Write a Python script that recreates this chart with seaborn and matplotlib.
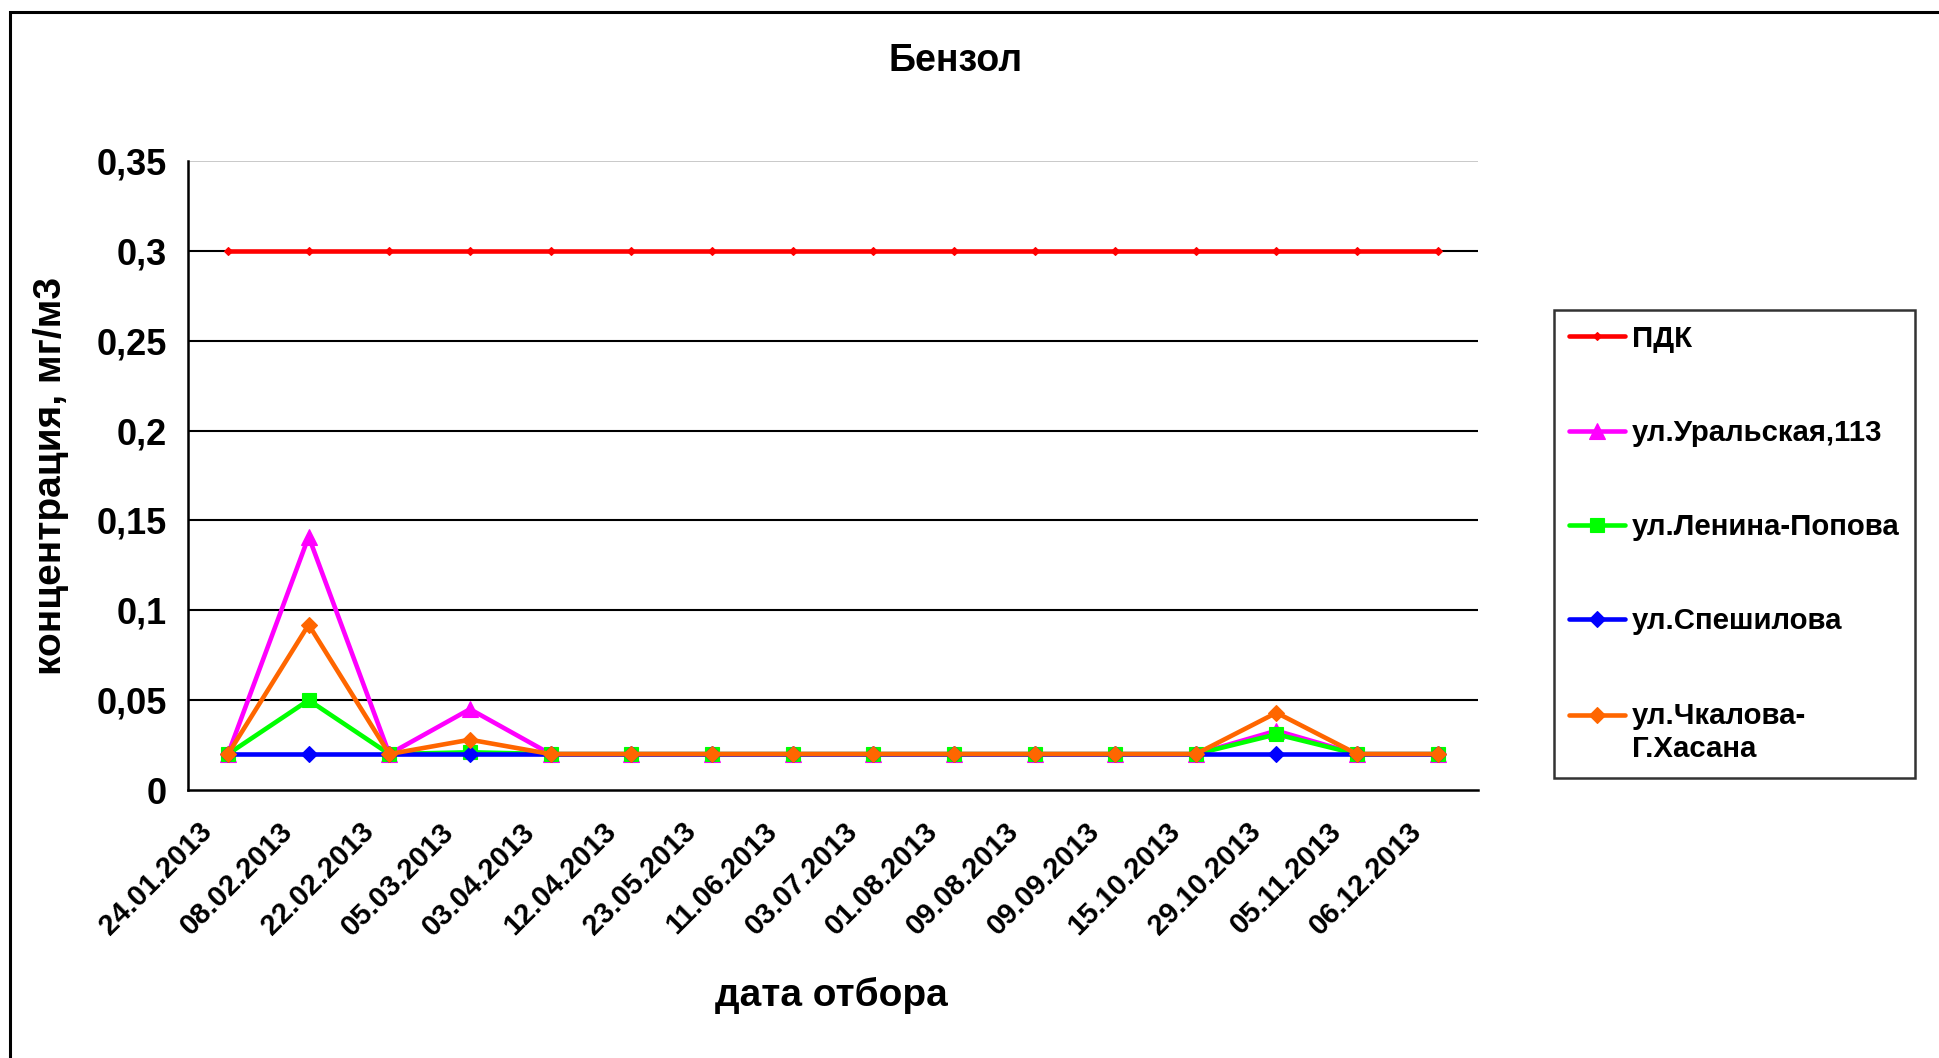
import matplotlib
matplotlib.use("Agg")
import matplotlib.pyplot as plt
import matplotlib.transforms as mtransforms
from matplotlib.patches import Rectangle
import seaborn as sns

# sampling dates (categorical x axis)
DATES = ["24.01.2013", "08.02.2013", "22.02.2013", "05.03.2013", "03.04.2013",
         "12.04.2013", "23.05.2013", "11.06.2013", "03.07.2013", "01.08.2013",
         "09.08.2013", "09.09.2013", "15.10.2013", "29.10.2013", "05.11.2013",
         "06.12.2013"]

PDK = [0.3] * 16
URALSKAYA = [0.02, 0.141, 0.02, 0.045, 0.02, 0.02, 0.02, 0.02, 0.02, 0.02,
             0.02, 0.02, 0.02, 0.033, 0.02, 0.02]
LENINA = [0.02, 0.05, 0.02, 0.021, 0.02, 0.02, 0.02, 0.02, 0.02, 0.02,
          0.02, 0.02, 0.02, 0.031, 0.02, 0.02]
SPESHILOVA = [0.02] * 16
CHKALOVA = [0.02, 0.092, 0.02, 0.028, 0.02, 0.02, 0.02, 0.02, 0.02, 0.02,
            0.02, 0.02, 0.02, 0.043, 0.02, 0.02]

Y_TICKS = [0, 0.05, 0.1, 0.15, 0.2, 0.25, 0.3, 0.35]
Y_LABELS = ["0", "0,05", "0,1", "0,15", "0,2", "0,25", "0,3", "0,35"]

sns.set_style("white")
plt.rcParams["font.family"] = ["Liberation Sans", "DejaVu Sans"]
plt.rcParams["font.weight"] = "bold"
for key in ["text.color", "axes.labelcolor", "xtick.color", "ytick.color"]:
    plt.rcParams[key] = "black"

fig = plt.figure(figsize=(19.39, 10.58), dpi=100)
ax = fig.add_axes([0.0968, 0.2533, 0.6655, 0.5945])

# outer frame (cut at right / bottom like the original)
fig.patches.append(Rectangle((10 / 1939, -0.1), 1.2, 1 - 12 / 1058 + 0.1,
                             transform=fig.transFigure, fill=False,
                             edgecolor="black", linewidth=2.2))

# gridlines
for yv in Y_TICKS[1:-1]:
    ax.axhline(yv, color="black", linewidth=1.5, zorder=1)
ax.axhline(0.35, color="#c0c0c0", linewidth=1.2, zorder=1)

x = list(range(len(DATES)))
series = [
    ("ПДК", PDK, "#FF0000", "D", 4.5),
    ("ул.Уральская,113", URALSKAYA, "#FF00FF", "^", 11),
    ("ул.Ленина-Попова", LENINA, "#00FF00", "s", 10.5),
    ("ул.Спешилова", SPESHILOVA, "#0000FF", "D", 8),
    ("ул.Чкалова-\nГ.Хасана", CHKALOVA, "#FF6600", "D", 8.5),
]
for i, (name, vals, col, mk, ms) in enumerate(series):
    sns.lineplot(x=x, y=vals, ax=ax, color=col, marker=mk, markersize=ms,
                 markeredgecolor=col, markeredgewidth=0.8, linewidth=3.3,
                 label=name, zorder=3 + i)

ax.set_xlim(-0.5, len(DATES) - 0.5)
ax.set_ylim(0, 0.35)
ax.set_yticks(Y_TICKS)
ax.set_yticklabels(Y_LABELS, fontsize=26, fontweight="bold")

# Excel-style: tick marks between categories, labels at category centers
ax.set_xticks([i - 0.5 for i in range(len(DATES) + 1)])
ax.set_xticklabels([])
ax.set_xticks(x, minor=True)
ax.set_xticklabels(DATES, minor=True, rotation=45, ha="right", va="center",
                   rotation_mode="anchor", fontsize=21, fontweight="bold")
ax.tick_params(axis="x", which="major", direction="out", length=10, width=1.5)
ax.tick_params(axis="x", which="minor", length=0, pad=27)
ax.tick_params(axis="y", direction="out", length=9, width=1.5, pad=6)
offset = mtransforms.ScaledTranslation(-20 / 100, 0, fig.dpi_scale_trans)
for lbl in ax.get_xticklabels(minor=True):
    lbl.set_transform(lbl.get_transform() + offset)

for side in ["top", "right"]:
    ax.spines[side].set_visible(False)
for side in ["left", "bottom"]:
    ax.spines[side].set_color("black")
    ax.spines[side].set_linewidth(1.8)
ax.set_xlabel("")
ax.set_ylabel("")

fig.text(0.493, 0.9423, "Бензол", ha="center", va="center",
         fontsize=27, fontweight="bold")
fig.text(0.0265, 0.55, "концентрация, мг/м3", rotation=90, ha="center",
         va="center", fontsize=28, fontweight="bold")
fig.text(0.429, 0.0595, "дата отбора", ha="center", va="center",
         fontsize=28, fontweight="bold")

LEG_FS = 21.2
leg = ax.legend(loc="upper left", bbox_to_anchor=(1554 / 1939, 1 - 310 / 1058),
                bbox_transform=fig.transFigure, borderaxespad=0,
                frameon=True, fancybox=False, edgecolor="black",
                prop={"size": LEG_FS, "weight": "bold"}, handlelength=1.9,
                handletextpad=0.25, labelspacing=2.25, borderpad=0.5)
leg.get_frame().set_linewidth(1.8)
for t in leg.get_texts():
    t.set_linespacing(1.25)
# align the two-line entry's handle with its first line, as in the original
last = leg.legend_handles[-1]
last.set_ydata(last.get_ydata() + 0.625 * LEG_FS)

fig.savefig("out.png", dpi=100, facecolor="white")
